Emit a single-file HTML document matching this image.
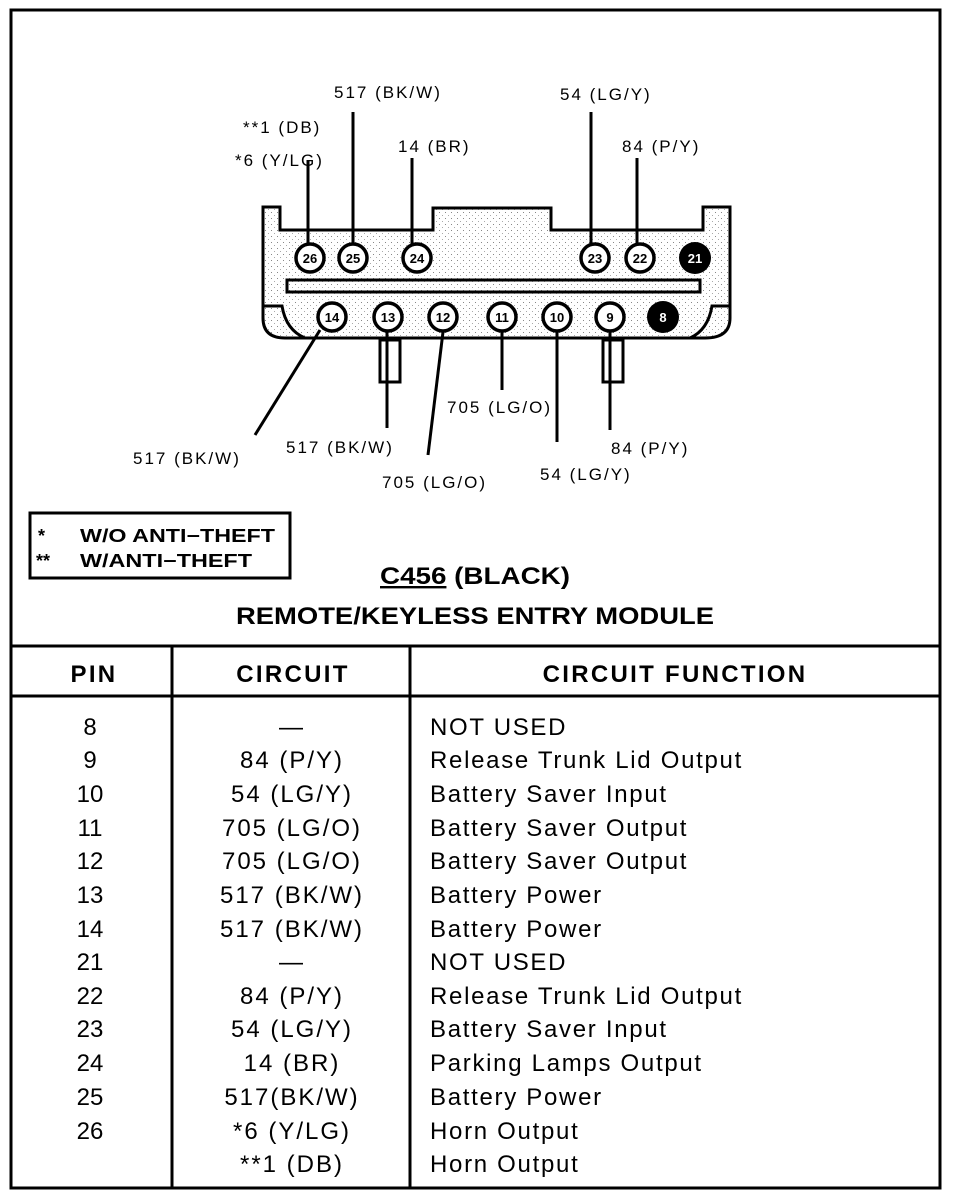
<!DOCTYPE html>
<html><head><meta charset="utf-8"><style>
html,body{margin:0;padding:0;background:#fff}
svg{display:block}
text{font-family:"Liberation Sans",Arial,sans-serif;fill:#000}
.l{font-size:17px;letter-spacing:2px}
.t{font-size:24px}
.c{letter-spacing:2px}
.f{letter-spacing:1.7px}
.h{font-size:24px;font-weight:bold;letter-spacing:2.3px}
.p{font-size:13px;font-weight:bold;text-anchor:middle}
</style></head><body>
<svg width="960" height="1196" viewBox="0 0 960 1196" xmlns="http://www.w3.org/2000/svg">
<defs><pattern id="dots" width="6" height="6" patternUnits="userSpaceOnUse"><rect width="6" height="6" fill="#fff"/><rect x="1" y="2" width="1" height="1" fill="#888"/><rect x="4" y="5" width="1" height="1" fill="#aaa"/></pattern></defs>
<rect x="11" y="10" width="929" height="1178" fill="none" stroke="#000" stroke-width="3"/>
<path d="M263 207 H280 V230 H433 V208 H551 V230 H703 V207 H730 V318 Q730 338 705 338 H285 Q263 338 263 318 Z" fill="url(#dots)" stroke="#000" stroke-width="3"/>
<path d="M263 306 H282 Q286 330 305 338" fill="none" stroke="#000" stroke-width="3"/>
<path d="M730 306 H712 Q708 330 690 338" fill="none" stroke="#000" stroke-width="3"/>
<rect x="287" y="280" width="413" height="12" fill="url(#dots)" stroke="#000" stroke-width="3"/>
<rect x="380" y="340" width="20" height="42" fill="#fff" stroke="#000" stroke-width="3"/>
<rect x="603" y="340" width="20" height="42" fill="#fff" stroke="#000" stroke-width="3"/>
<g stroke="#000" stroke-width="3" fill="none">
<line x1="308" y1="160" x2="308" y2="245"/>
<line x1="353" y1="112" x2="353" y2="245"/>
<line x1="412" y1="158" x2="412" y2="245"/>
<line x1="591" y1="112" x2="591" y2="245"/>
<line x1="637" y1="158" x2="637" y2="245"/>
<line x1="320" y1="330" x2="255" y2="435"/>
<line x1="387" y1="330" x2="387" y2="428"/>
<line x1="443" y1="332" x2="428" y2="455"/>
<line x1="502" y1="330" x2="502" y2="390"/>
<line x1="557" y1="330" x2="557" y2="442"/>
<line x1="610" y1="330" x2="610" y2="430"/>
</g>
<g stroke="#000" stroke-width="3.5" fill="#fff">
<circle cx="310" cy="258" r="14"/><circle cx="353" cy="258" r="14"/><circle cx="417" cy="258" r="14"/>
<circle cx="595" cy="258" r="14"/><circle cx="640" cy="258" r="14"/>
<circle cx="332" cy="317" r="14"/><circle cx="388" cy="317" r="14"/><circle cx="443" cy="317" r="14"/>
<circle cx="502" cy="317" r="14"/><circle cx="557" cy="317" r="14"/><circle cx="610" cy="317" r="14"/>
</g>
<circle cx="695" cy="258" r="16" fill="#000"/><circle cx="663" cy="317" r="16" fill="#000"/>
<text class="p" x="310" y="263">26</text><text class="p" x="353" y="263">25</text><text class="p" x="417" y="263">24</text>
<text class="p" x="595" y="263">23</text><text class="p" x="640" y="263">22</text><text class="p" x="695" y="263" style="fill:#fff">21</text>
<text class="p" x="332" y="322">14</text><text class="p" x="388" y="322">13</text><text class="p" x="443" y="322">12</text>
<text class="p" x="502" y="322">11</text><text class="p" x="557" y="322">10</text><text class="p" x="610" y="322">9</text>
<text class="p" x="663" y="322" style="fill:#fff">8</text>
<text class="l" x="334" y="98">517 (BK/W)</text>
<text class="l" x="243" y="133">**1 (DB)</text>
<text class="l" x="235" y="166">*6 (Y/LG)</text>
<text class="l" x="398" y="152">14 (BR)</text>
<text class="l" x="560" y="100">54 (LG/Y)</text>
<text class="l" x="622" y="152">84 (P/Y)</text>
<text class="l" x="133" y="464">517 (BK/W)</text>
<text class="l" x="286" y="453">517 (BK/W)</text>
<text class="l" x="447" y="413">705 (LG/O)</text>
<text class="l" x="382" y="488">705 (LG/O)</text>
<text class="l" x="540" y="480">54 (LG/Y)</text>
<text class="l" x="611" y="454">84 (P/Y)</text>
<rect x="30" y="513" width="260" height="65" fill="none" stroke="#000" stroke-width="3"/>
<text x="38" y="542" style="font-size:18px;font-weight:bold">*</text>
<text x="80" y="542" style="font-size:18px;font-weight:bold" textLength="195" lengthAdjust="spacingAndGlyphs">W/O ANTI−THEFT</text>
<text x="36" y="567" style="font-size:18px;font-weight:bold">**</text>
<text x="80" y="567" style="font-size:18px;font-weight:bold" textLength="172" lengthAdjust="spacingAndGlyphs">W/ANTI−THEFT</text>
<text x="380" y="584" style="font-size:24px;font-weight:bold" textLength="190" lengthAdjust="spacingAndGlyphs"><tspan text-decoration="underline">C456</tspan> (BLACK)</text>
<text x="236" y="624" style="font-size:24px;font-weight:bold" textLength="478" lengthAdjust="spacingAndGlyphs">REMOTE/KEYLESS ENTRY MODULE</text>
<g stroke="#000" stroke-width="3">
<line x1="11" y1="646" x2="940" y2="646"/>
<line x1="11" y1="696" x2="940" y2="696"/>
<line x1="172" y1="646" x2="172" y2="1188"/>
<line x1="410" y1="646" x2="410" y2="1188"/>
</g>
<text class="h" x="94" y="682" text-anchor="middle">PIN</text>
<text class="h" x="293" y="682" text-anchor="middle">CIRCUIT</text>
<text class="h" x="675" y="682" text-anchor="middle">CIRCUIT FUNCTION</text>
<g>
<text class="t" x="90" y="735" text-anchor="middle">8</text><text class="t c" x="292" y="735" text-anchor="middle">—</text><text class="t f" x="430" y="735">NOT USED</text>
<text class="t" x="90" y="768" text-anchor="middle">9</text><text class="t c" x="292" y="768" text-anchor="middle">84 (P/Y)</text><text class="t f" x="430" y="768">Release Trunk Lid Output</text>
<text class="t" x="90" y="802" text-anchor="middle">10</text><text class="t c" x="292" y="802" text-anchor="middle">54 (LG/Y)</text><text class="t f" x="430" y="802">Battery Saver Input</text>
<text class="t" x="90" y="836" text-anchor="middle">11</text><text class="t c" x="292" y="836" text-anchor="middle">705 (LG/O)</text><text class="t f" x="430" y="836">Battery Saver Output</text>
<text class="t" x="90" y="869" text-anchor="middle">12</text><text class="t c" x="292" y="869" text-anchor="middle">705 (LG/O)</text><text class="t f" x="430" y="869">Battery Saver Output</text>
<text class="t" x="90" y="903" text-anchor="middle">13</text><text class="t c" x="292" y="903" text-anchor="middle">517 (BK/W)</text><text class="t f" x="430" y="903">Battery Power</text>
<text class="t" x="90" y="937" text-anchor="middle">14</text><text class="t c" x="292" y="937" text-anchor="middle">517 (BK/W)</text><text class="t f" x="430" y="937">Battery Power</text>
<text class="t" x="90" y="970" text-anchor="middle">21</text><text class="t c" x="292" y="970" text-anchor="middle">—</text><text class="t f" x="430" y="970">NOT USED</text>
<text class="t" x="90" y="1004" text-anchor="middle">22</text><text class="t c" x="292" y="1004" text-anchor="middle">84 (P/Y)</text><text class="t f" x="430" y="1004">Release Trunk Lid Output</text>
<text class="t" x="90" y="1037" text-anchor="middle">23</text><text class="t c" x="292" y="1037" text-anchor="middle">54 (LG/Y)</text><text class="t f" x="430" y="1037">Battery Saver Input</text>
<text class="t" x="90" y="1071" text-anchor="middle">24</text><text class="t c" x="292" y="1071" text-anchor="middle">14 (BR)</text><text class="t f" x="430" y="1071">Parking Lamps Output</text>
<text class="t" x="90" y="1105" text-anchor="middle">25</text><text class="t c" x="292" y="1105" text-anchor="middle">517(BK/W)</text><text class="t f" x="430" y="1105">Battery Power</text>
<text class="t" x="90" y="1139" text-anchor="middle">26</text><text class="t c" x="292" y="1139" text-anchor="middle">*6 (Y/LG)</text><text class="t f" x="430" y="1139">Horn Output</text>
<text class="t c" x="292" y="1172" text-anchor="middle">**1 (DB)</text><text class="t f" x="430" y="1172">Horn Output</text>
</g>
</svg>
</body></html>
